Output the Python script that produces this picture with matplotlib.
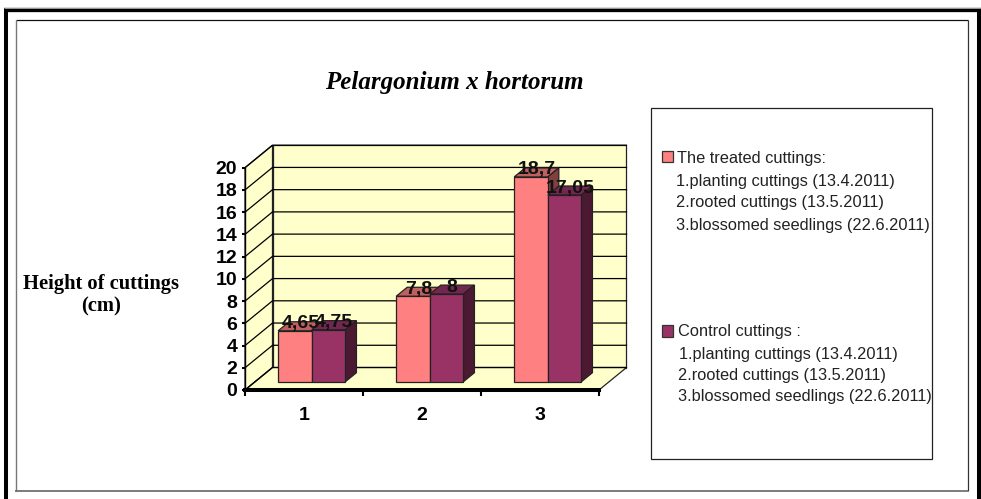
import numpy as np
import matplotlib
matplotlib.use("Agg")
import matplotlib.pyplot as plt
from matplotlib.lines import Line2D
from matplotlib.patches import Polygon, Rectangle

### data ###
groups = ["1", "2", "3"]
treated = [4.65, 7.8, 18.7]
control = [4.75, 8, 17.05]
treated_labels = ["4,65", "7,8", "18,7"]
control_labels = ["4,75", "8", "17,05"]
y_ticks = list(range(0, 21, 2))
title = "Pelargonium x hortorum"
y_title = "Height of cuttings\n(cm)"
legend_treated = ["The treated cuttings:", "1.planting cuttings (13.4.2011)",
                  "2.rooted cuttings (13.5.2011)", "3.blossomed seedlings (22.6.2011)"]
legend_control = ["Control cuttings :", "1.planting cuttings (13.4.2011)",
                  "2.rooted cuttings (13.5.2011)", "3.blossomed seedlings (22.6.2011)"]

W, H = 981, 499
SANS = "Liberation Sans"
SERIF = "Liberation Serif"
WALL = "#FFFFCC"
PINK = ("#FF8080", "#BF6060", "#804040")    # front, top, side
PURPLE = ("#993366", "#732650", "#4C1933")
EDGE = "#222222"

fig = plt.figure(figsize=(W/100, H/100), dpi=100)


def fx(x):
    return x/W


def fy(y):
    return 1 - y/H


def fline(xs, ys, color, lw):
    fig.add_artist(Line2D([fx(x) for x in xs], [fy(y) for y in ys], color=color, lw=lw,
                          solid_capstyle="butt", transform=fig.transFigure))


### outer frames: the picture has no black edge at the bottom ###
fline([6, 6], [8, 499], "black", 2.9)
fline([4, 981], [10, 10], "black", 3.1)
fline([979, 979], [8, 499], "black", 2.9)
fline([4, 981], [7.5, 7.5], "#999999", 0.7)
fline([15.5, 967.5], [20.3, 20.3], "#111111", 0.9)
fline([967.5, 967.5], [20, 491], "#333333", 0.9)
fline([15.5, 15.5], [20, 491], "#777777", 1.0)
fline([15, 968], [491, 491], "#666666", 1.2)

### chart: the axes box is the front plane of the 3d box ###
ax = fig.add_axes([fx(245), fy(390), fx(354), 222.3/H])
ax.set_xlim(0, 3)
ax.set_ylim(0, 20)
ax.patch.set_visible(False)
DX = 27.5*3/354      # depth of the box in data units
DY = 22.5*20/222.3


def poly(pts, fc, ec=EDGE, lw=0.9, z=1):
    ax.add_patch(Polygon(pts, closed=True, fc=fc, ec=ec, lw=lw, clip_on=False, zorder=z))


# walls and floor
poly([(DX, DY), (3+DX, DY), (3+DX, 20+DY), (DX, 20+DY)], WALL)
poly([(0, 0), (DX, DY), (DX, 20+DY), (0, 20)], WALL)
poly([(0, 0), (3, 0), (3+DX, DY), (DX, DY)], WALL)

# grid on the walls
for v in y_ticks:
    ax.plot([0, DX, 3+DX], [v, v+DY, v+DY], color="black", lw=0.9, clip_on=False, zorder=2)

# bars sit inside the box between these two depth fractions
D0, D1 = 0.37, 0.77
BAR_W = 0.285
BAR_SCALE = 0.985
CENTER = 0.48


def bar3d(x0, v, cols, z):
    x1 = x0 + BAR_W
    h = v*BAR_SCALE
    ox, oy = D0*DX, D0*DY
    px, py = (D1-D0)*DX, (D1-D0)*DY
    # front plane shifted back into the box
    poly([(x0+ox, oy+h), (x1+ox, oy+h), (x1+ox+px, oy+h+py), (x0+ox+px, oy+h+py)], cols[1], z=z)
    poly([(x1+ox, oy), (x1+ox+px, oy+py), (x1+ox+px, oy+h+py), (x1+ox, oy+h)], cols[2], z=z)
    poly([(x0+ox, oy), (x1+ox, oy), (x1+ox, oy+h), (x0+ox, oy+h)], cols[0], z=z)
    return x0+ox+BAR_W/2, oy+h


for i in range(len(groups)):
    # left bar first, the right one covers its side face
    cx1, top1 = bar3d(i+CENTER-BAR_W, treated[i], PINK, 4)
    cx2, top2 = bar3d(i+CENTER, control[i], PURPLE, 5)
    ax.annotate(treated_labels[i], (cx1, top1), xytext=(4, 5), textcoords="offset points",
                ha="center", va="center", fontsize=14, fontweight="bold", family=SANS,
                color="#111111", zorder=8, annotation_clip=False)
    ax.annotate(control_labels[i], (cx2, top2), xytext=(4, 5), textcoords="offset points",
                ha="center", va="center", fontsize=14, fontweight="bold", family=SANS,
                color="#111111", zorder=8, annotation_clip=False)

# axes
for s in ["top", "right"]:
    ax.spines[s].set_visible(False)
ax.spines["bottom"].set_linewidth(2.9)
ax.spines["left"].set_linewidth(1.0)
ax.spines["bottom"].set_zorder(6)
ax.spines["left"].set_zorder(6)
ax.set_yticks(y_ticks)
ax.tick_params(axis="y", length=2.5, width=1.5, pad=3, labelsize=14)
ax.set_xticks(range(4))
ax.set_xticklabels([])
ax.tick_params(axis="x", which="major", length=4, width=1.5)
ax.set_xticks([0.5, 1.5, 2.5], minor=True)
ax.set_xticklabels(groups, minor=True)
ax.tick_params(axis="x", which="minor", length=0, pad=12, labelsize=14)
for lab in ax.get_yticklabels() + ax.get_xticklabels(minor=True):
    lab.set_fontfamily(SANS)
    lab.set_fontweight("bold")

### texts ###
fig.text(fx(454), fy(83), title, ha="center", va="center", family=SERIF, style="italic",
         fontweight="bold", fontsize=18)
fig.text(fx(101), fy(295), y_title, ha="center", va="center", family=SERIF, fontweight="bold",
         fontsize=14.8, linespacing=1.2)

### legend box ###
fig.add_artist(Rectangle((fx(651), fy(458.7)), fx(280.7), 350.7/H, fc="white", ec="#222222", lw=0.9,
                         transform=fig.transFigure))
fig.add_artist(Rectangle((fx(662), fy(162.3)), fx(11.3), 11.6/H, fc=PINK[0], ec="#333333", lw=0.9,
                         transform=fig.transFigure))
fig.add_artist(Rectangle((fx(662), fy(336.7)), fx(11.3), 11.6/H, fc=PURPLE[0], ec="#333333", lw=0.9,
                         transform=fig.transFigure))
treated_pos = [(676.7, 158.3), (675.7, 181.3), (675.7, 202.7), (675.7, 225.3)]
control_pos = [(677.7, 331.7), (679, 354), (677.7, 375.3), (677.7, 396.7)]
for txt, (x, y) in zip(legend_treated + legend_control, treated_pos + control_pos):
    fig.text(fx(x), fy(y), txt, ha="left", va="center", family=SANS, fontsize=11.8, color="#222222")

fig.savefig("out.png", dpi=100)
